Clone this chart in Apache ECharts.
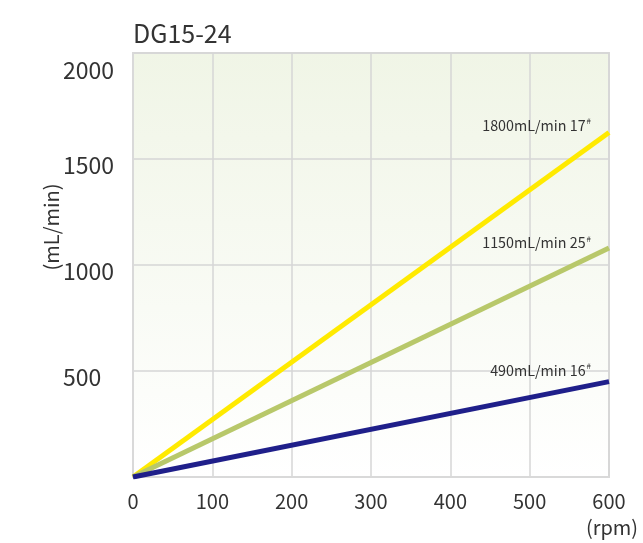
<!DOCTYPE html>
<html>
<head>
<meta charset="utf-8">
<script src="https://cdn.jsdelivr.net/npm/echarts@6/dist/echarts.min.js"></script>
<style>
  html, body { margin: 0; padding: 0; background: #fff; }
  #main { width: 643px; height: 543px; }
</style>
</head>
<body>
<div id="main"></div>
<script>
// pump speed (rpm) and flow (mL/min) for each tube size
const rpm = [0, 600];
const flowTube17 = [0, 1625];
const flowTube25 = [0, 1080];
const flowTube16 = [0, 450];
const maxFlows = ["1800mL/min", "1150mL/min", "490mL/min"];
const tubeSizes = ["17", "25", "16"];
const yTicks = [0, 500, 1000, 1500, 2000];

const font = "Noto Sans CJK JP";
const chartDom = document.getElementById("main");
const myChart = echarts.init(chartDom);

function pairs(ys) {
  return rpm.map((x, i) => [x, ys[i]]);
}

function lineSeries(ys, color, idx, dy) {
  return {
    type: "line",
    data: pairs(ys),
    symbol: "none",
    lineStyle: { color: color, width: 5 },
    endLabel: {
      show: true,
      align: "right",
      distance: 0,
      offset: [-18, dy],
      formatter: () => "{m|" + maxFlows[idx] + " " + tubeSizes[idx] + "}{s|#}",
      rich: {
        m: { fontSize: 14.3, color: "#333", fontFamily: font, lineHeight: 18 },
        s: { fontSize: 8, color: "#333", fontFamily: font, padding: [0, 0, 9, 1] },
      },
    },
  };
}

const option = {
  animation: false,
  title: {
    text: "DG15-24",
    left: 128,
    top: 16,
    textStyle: { fontSize: 25, fontWeight: "normal", color: "#333", fontFamily: font },
  },
  grid: {
    left: 133,
    right: 34,
    top: 53,
    bottom: 66,
    show: true,
    borderColor: "#d9d9d9",
    borderWidth: 2,
    backgroundColor: new echarts.graphic.LinearGradient(0, 0, 0, 1, [
      { offset: 0, color: "#f0f5e6" },
      { offset: 1, color: "#ffffff" },
    ]),
  },
  xAxis: {
    type: "value",
    min: 0,
    max: 600,
    interval: 100,
    name: "(rpm)",
    nameLocation: "end",
    nameGap: 3,
    nameTextStyle: {
      fontSize: 20,
      color: "#333",
      fontFamily: font,
      align: "center",
      verticalAlign: "top",
      padding: [40, 0, 0, 0],
    },
    axisLine: { lineStyle: { color: "#d9d9d9", width: 2 } },
    axisTick: { show: false },
    axisLabel: { fontSize: 20, color: "#333", fontFamily: font, margin: 14 },
    splitLine: { lineStyle: { color: "#d6d6d6", width: 1.5 } },
  },
  yAxis: {
    type: "value",
    min: yTicks[0],
    max: yTicks[yTicks.length - 1],
    interval: 500,
    name: "(mL/min)",
    nameLocation: "middle",
    nameRotate: 90,
    nameGap: 72,
    nameMoveOverlap: false,
    nameTextStyle: { fontSize: 20, color: "#333", fontFamily: font, padding: [0, 0, 0, 76] },
    axisLine: { show: true, lineStyle: { color: "#d9d9d9", width: 2 } },
    axisTick: { show: false },
    axisLabel: {
      align: "left",
      margin: 70,
      formatter: (v) => (v === 0 ? "" : v === 2000 ? "{hi|" + v + "}" : "{n|" + v + "}"),
      rich: {
        hi: { fontSize: 23, color: "#333", fontFamily: font, padding: [34, 0, 0, 0] },
        n: { fontSize: 23, color: "#333", fontFamily: font, padding: [13, 0, 0, 0] },
      },
    },
    splitLine: { lineStyle: { color: "#d6d6d6", width: 1.5 } },
  },
  series: [
    lineSeries(flowTube17, "#ffea00", 0, -7),
    lineSeries(flowTube25, "#b8c86a", 1, -5),
    lineSeries(flowTube16, "#1f1f8a", 2, -11),
  ],
};

myChart.setOption(option);
</script>
</body>
</html>
